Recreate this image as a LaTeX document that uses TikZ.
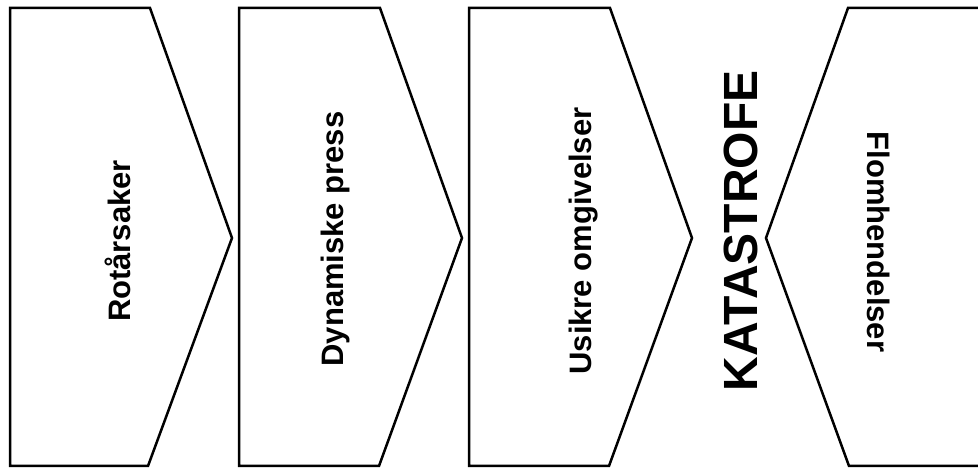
\documentclass[tikz,border=0pt]{standalone}
\usepackage{fontspec}
\setmainfont{Liberation Sans}

\begin{document}
\begin{tikzpicture}[
  x=1pt,y=1pt,
  line width=2.5pt,
  line join=miter,
  stage/.style={rotate=90,anchor=base,inner sep=0pt,font=\bfseries\fontsize{31}{31}\selectfont},
  hazard/.style={rotate=-90,anchor=base,inner sep=0pt,font=\bfseries\fontsize{31}{31}\selectfont},
  disaster/.style={rotate=90,anchor=base,inner sep=0pt,font=\bfseries\fontsize{48}{48}\selectfont}
]
  \useasboundingbox (0,0) rectangle (978,468);
  \draw (10,460) -- (150,460) -- (232,230) -- (148,2) -- (10,2) -- cycle;
  \draw (239,460) -- (380,460) -- (462,230) -- (379,2) -- (239,2) -- cycle;
  \draw (469,460) -- (610,460) -- (692,230) -- (609,2) -- (469,2) -- cycle;
  \draw (979,460) -- (848,460) -- (766,230) -- (849,2) -- (979,2);
  \node[stage] (root) at (130,227) {Rotårsaker};
  \node[stage] (press) at (343,229) {Dynamiske press};
  \node[stage] (unsafe) at (591,227) {Usikre omgivelser};
  \node[disaster] (kat) at (757,237) {KATASTROFE};
  \node[hazard] (flom) at (867,226) {Flomhendelser};
\end{tikzpicture}
\end{document}
